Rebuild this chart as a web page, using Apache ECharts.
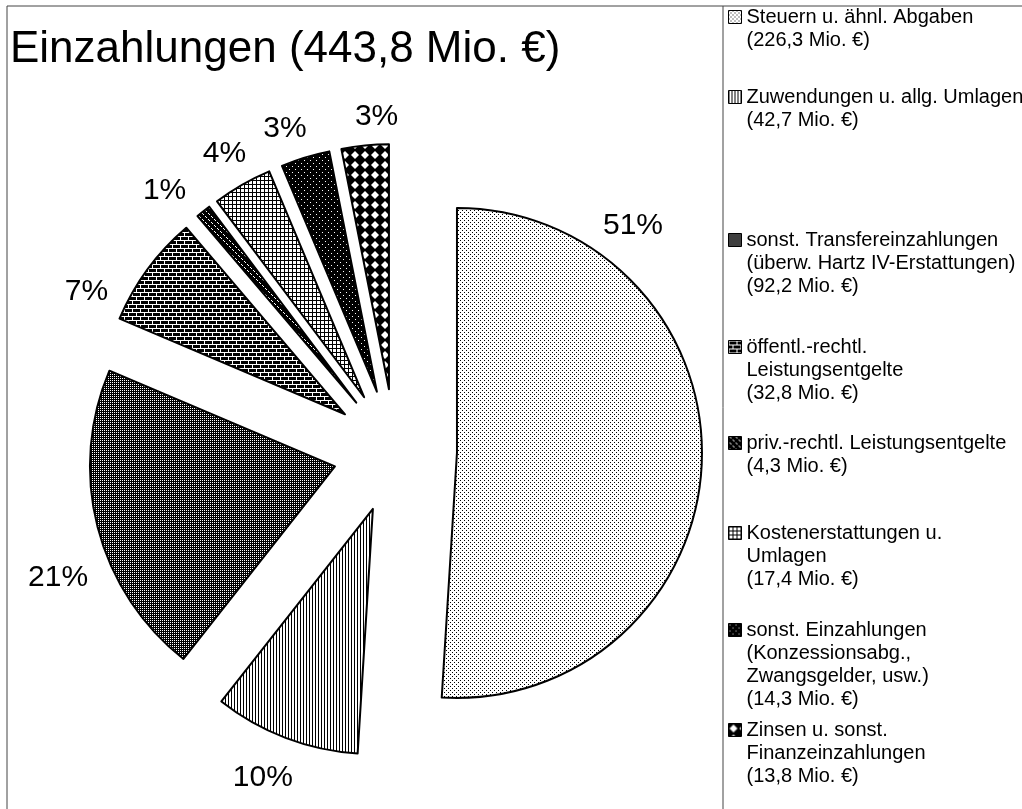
<!DOCTYPE html>
<html>
<head>
<meta charset="utf-8">
<script src="https://cdn.jsdelivr.net/npm/echarts@6/dist/echarts.min.js"></script>
<style>
  html, body { margin: 0; background: #fff; }
  #chart { width: 1022px; height: 809px; }
</style>
</head>
<body>
<div id="chart"></div>
<script>
// Einzahlungen, Mio. €
const categories = [
  'Steuern u. ähnl. Abgaben',
  'Zuwendungen u. allg. Umlagen',
  'sonst. Transfereinzahlungen\n(überw. Hartz IV-Erstattungen)',
  'öffentl.-rechtl.\nLeistungsentgelte',
  'priv.-rechtl. Leistungsentgelte',
  'Kostenerstattungen u.\nUmlagen',
  'sonst. Einzahlungen\n(Konzessionsabg.,\nZwangsgelder, usw.)',
  'Zinsen u. sonst.\nFinanzeinzahlungen'
]
const values = [226.3, 42.7, 92.2, 32.8, 4.3, 17.4, 14.3, 13.8]

// layout
const FONT = '"Liberation Sans", Arial, sans-serif'
const CX = 395, CY = 451, R = 245, OFFSET = 62, LABEL_GAP = 12
const LEGEND_LINE_Y = [17, 97, 240, 347, 443, 533, 630, 730]
const LH = 23
// percent labels sit a little off the middle angle, like in the original
const labelTurn = [-54, 1.4, -7.5, -11, -3.5, 0, -2.3, 3]
const labelExtra = [0, 8, 8, 3, 3, 0, 0, 0]

const fmt = v => v.toFixed(1).replace('.', ',')
const total = values.reduce((a, b) => a + b, 0)

// start and middle angle of every slice, clockwise from 12 o'clock
const startAngles = []
const midAngles = []
let acc = 0
values.forEach(v => {
  startAngles.push(acc / total * 360)
  midAngles.push((acc + v / 2) / total * 360)
  acc += v
})
const rad = a => a * Math.PI / 180

function tile(w, h, bg, paint) {
  const c = document.createElement('canvas')
  c.width = w
  c.height = h
  const ctx = c.getContext('2d')
  ctx.fillStyle = bg
  ctx.fillRect(0, 0, w, h)
  ctx.fillStyle = bg === '#fff' ? '#000' : '#fff'
  paint(ctx)
  return { image: c, repeat: 'repeat' }
}
const dots = pts => ctx => pts.forEach(([x, y]) => ctx.fillRect(x, y, 1, 1))

const patterns = [
  tile(4, 4, '#fff', dots([[0, 0], [2, 2]])),
  tile(3, 1, '#fff', dots([[0, 0]])),
  tile(2, 2, '#000', dots([[0, 0]])),
  tile(8, 8, '#000', ctx => {
    ctx.fillRect(0, 0, 8, 1)
    ctx.fillRect(0, 4, 8, 1)
    ctx.fillRect(0, 1, 1, 3)
    ctx.fillRect(4, 5, 1, 3)
  }),
  tile(6, 6, '#000', dots([[1, 0], [2, 1], [4, 3], [5, 4]])),
  tile(4, 4, '#fff', ctx => {
    ctx.fillRect(0, 0, 4, 1)
    ctx.fillRect(0, 0, 1, 4)
  }),
  tile(6, 6, '#000', dots([[1, 1], [4, 4]])),
  tile(10, 10, '#000', ctx => {
    ctx.beginPath()
    ctx.moveTo(5, 1)
    ctx.lineTo(9, 5)
    ctx.lineTo(5, 9)
    ctx.lineTo(1, 5)
    ctx.closePath()
    ctx.fill()
  })
]

// one pie per slice so every slice can be pulled out along its middle angle
const series = values.map((v, i) => {
  const m = rad(midAngles[i])
  const cx = CX + Math.sin(m) * OFFSET
  const cy = CY - Math.cos(m) * OFFSET
  return {
    type: 'pie',
    center: [cx, cy],
    radius: R,
    startAngle: 90 - startAngles[i],
    clockwise: true,
    avoidLabelOverlap: false,
    percentPrecision: 0,
    emphasis: { disabled: true },
    label: {
      show: true,
      position: 'outside',
      formatter: '{d}%',
      fontFamily: FONT,
      fontSize: 30,
      color: '#000'
    },
    labelLine: { show: false },
    labelLayout: p => {
      if (p.dataIndex !== 0) return {}
      const t = rad(midAngles[i] + labelTurn[i])
      const dx = Math.sin(t), dy = -Math.cos(t)
      const ext = Math.abs(dx) * p.labelRect.width / 2 + Math.abs(dy) * p.labelRect.height / 2
      const d = R + LABEL_GAP + labelExtra[i] + ext
      return { x: cx + dx * d, y: cy + dy * d, align: 'center', verticalAlign: 'middle' }
    },
    data: [
      {
        name: categories[i],
        value: v,
        itemStyle: { color: patterns[i], borderColor: '#000', borderWidth: 2 }
      },
      {
        name: '',
        value: total - v,
        itemStyle: { color: 'rgba(0,0,0,0)', borderWidth: 0 },
        label: { show: false }
      }
    ]
  }
})

const chart = echarts.init(document.getElementById('chart'))

chart.setOption({
  animation: false,
  backgroundColor: '#fff',
  title: {
    text: 'Einzahlungen (' + fmt(total) + ' Mio. €)',
    left: 10,
    top: 28,
    padding: 0,
    textStyle: { fontFamily: FONT, fontSize: 44, fontWeight: 'normal', color: '#000' }
  },
  graphic: [
    {
      type: 'rect',
      shape: { x: 7, y: 6, width: 1040, height: 840 },
      style: { fill: null, stroke: '#444', lineWidth: 1 },
      silent: true
    },
    {
      type: 'line',
      shape: { x1: 723, y1: 6, x2: 723, y2: 809 },
      style: { stroke: '#444', lineWidth: 1 },
      silent: true
    }
  ],
  legend: categories.map((name, i) => {
    const n = name.split('\n').length + 1
    return {
      data: [name],
      orient: 'vertical',
      left: 728,
      top: LEGEND_LINE_Y[i] - (2 * n - 1) * LH / 2,
      padding: 0,
      itemWidth: 13,
      itemHeight: 13,
      selectedMode: false,
      icon: 'rect',
      itemStyle: { borderColor: '#000', borderWidth: 1 },
      formatter: nm => '\n'.repeat(n - 1) + nm + '\n(' + fmt(values[i]) + ' Mio. €)',
      textStyle: { fontFamily: FONT, fontSize: 20, lineHeight: LH, color: '#000' }
    }
  }),
  series
})
</script>
</body>
</html>
